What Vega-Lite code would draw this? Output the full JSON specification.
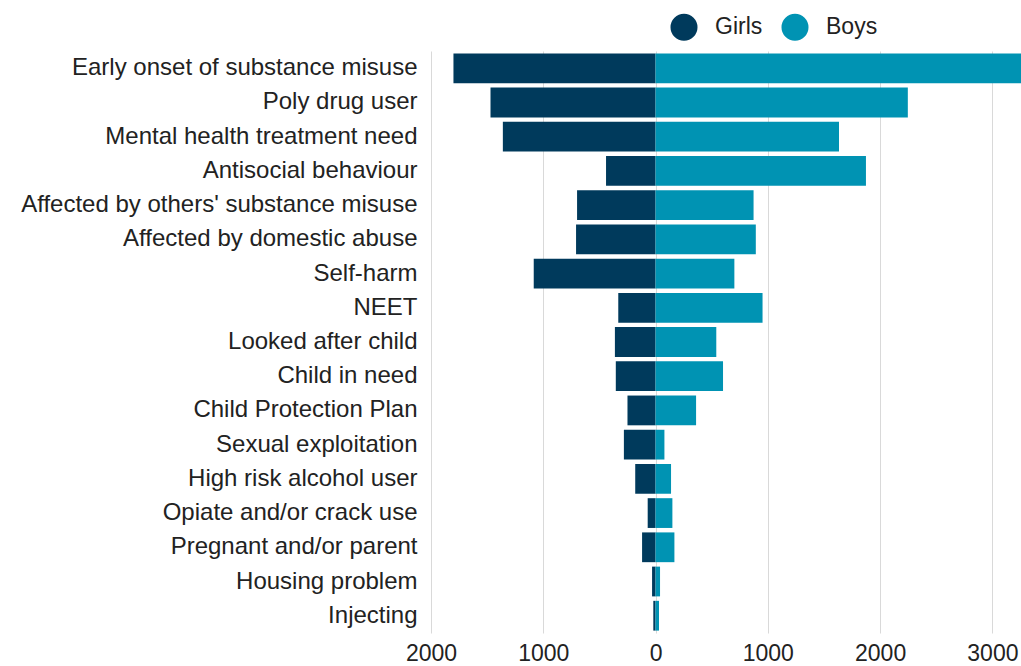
{
  "$schema": "https://vega.github.io/schema/vega-lite/v6.json",
  "width": 590,
  "height": 582,
  "autosize": {"type": "none"},
  "padding": {"left": 431, "top": 51, "right": 0, "bottom": 33},
  "background": "white",
  "config": {
    "view": {"stroke": null},
    "font": "Liberation Sans",
    "text": {"font": "Liberation Sans"}
  },
  "data": {
    "values": [
      {"category": "Early onset of substance misuse", "sex": "Girls", "value": -1800},
      {"category": "Early onset of substance misuse", "sex": "Boys", "value": 3300},
      {"category": "Poly drug user", "sex": "Girls", "value": -1470},
      {"category": "Poly drug user", "sex": "Boys", "value": 2247},
      {"category": "Mental health treatment need", "sex": "Girls", "value": -1360},
      {"category": "Mental health treatment need", "sex": "Boys", "value": 1634},
      {"category": "Antisocial behaviour", "sex": "Girls", "value": -441},
      {"category": "Antisocial behaviour", "sex": "Boys", "value": 1874},
      {"category": "Affected by others' substance misuse", "sex": "Girls", "value": -699},
      {"category": "Affected by others' substance misuse", "sex": "Boys", "value": 873},
      {"category": "Affected by domestic abuse", "sex": "Girls", "value": -708},
      {"category": "Affected by domestic abuse", "sex": "Boys", "value": 893},
      {"category": "Self-harm", "sex": "Girls", "value": -1085},
      {"category": "Self-harm", "sex": "Boys", "value": 702},
      {"category": "NEET", "sex": "Girls", "value": -332},
      {"category": "NEET", "sex": "Boys", "value": 953},
      {"category": "Looked after child", "sex": "Girls", "value": -362},
      {"category": "Looked after child", "sex": "Boys", "value": 541},
      {"category": "Child in need", "sex": "Girls", "value": -354},
      {"category": "Child in need", "sex": "Boys", "value": 601},
      {"category": "Child Protection Plan", "sex": "Girls", "value": -250},
      {"category": "Child Protection Plan", "sex": "Boys", "value": 361},
      {"category": "Sexual exploitation", "sex": "Girls", "value": -282},
      {"category": "Sexual exploitation", "sex": "Boys", "value": 79},
      {"category": "High risk alcohol user", "sex": "Girls", "value": -181},
      {"category": "High risk alcohol user", "sex": "Boys", "value": 138},
      {"category": "Opiate and/or crack use", "sex": "Girls", "value": -70},
      {"category": "Opiate and/or crack use", "sex": "Boys", "value": 150},
      {"category": "Pregnant and/or parent", "sex": "Girls", "value": -120},
      {"category": "Pregnant and/or parent", "sex": "Boys", "value": 168},
      {"category": "Housing problem", "sex": "Girls", "value": -31},
      {"category": "Housing problem", "sex": "Boys", "value": 40},
      {"category": "Injecting", "sex": "Girls", "value": -20},
      {"category": "Injecting", "sex": "Boys", "value": 31}
    ]
  },
  "mark": {"type": "bar", "clip": true},
  "encoding": {
    "y": {
      "field": "category",
      "type": "nominal",
      "sort": [
        "Early onset of substance misuse", "Poly drug user", "Mental health treatment need",
        "Antisocial behaviour", "Affected by others' substance misuse", "Affected by domestic abuse",
        "Self-harm", "NEET", "Looked after child", "Child in need", "Child Protection Plan",
        "Sexual exploitation", "High risk alcohol user", "Opiate and/or crack use",
        "Pregnant and/or parent", "Housing problem", "Injecting"
      ],
      "scale": {"paddingInner": 0.13, "paddingOuter": 0.07},
      "axis": {
        "title": null,
        "domain": false,
        "ticks": false,
        "grid": false,
        "labelFontSize": 24,
        "labelColor": "#222222",
        "labelPadding": 14,
        "labelLimit": 500
      }
    },
    "x": {
      "field": "value",
      "type": "quantitative",
      "scale": {"domain": [-2000, 3255], "nice": false, "zero": false},
      "axis": {
        "title": null,
        "values": [-2000, -1000, 0, 1000, 2000, 3000],
        "labelExpr": "format(abs(datum.value), 'd')",
        "domain": false,
        "ticks": false,
        "grid": true,
        "gridColor": "#d9d9d9",
        "gridWidth": 1,
        "labelFontSize": 23,
        "labelColor": "#222222",
        "labelPadding": 9,
        "labelFlush": false,
        "labelOverlap": false
      }
    },
    "color": {
      "field": "sex",
      "type": "nominal",
      "scale": {"domain": ["Girls", "Boys"], "range": ["#003a5c", "#0093b3"]},
      "legend": {
        "title": null,
        "orient": "none",
        "direction": "horizontal",
        "legendX": 239,
        "legendY": -38,
        "padding": 0,
        "symbolType": "circle",
        "symbolSize": 730,
        "symbolStrokeWidth": 0,
        "symbolOpacity": 1,
        "labelFontSize": 23,
        "labelColor": "#222222",
        "labelOffset": 17,
        "columnPadding": 18
      }
    }
  }
}
